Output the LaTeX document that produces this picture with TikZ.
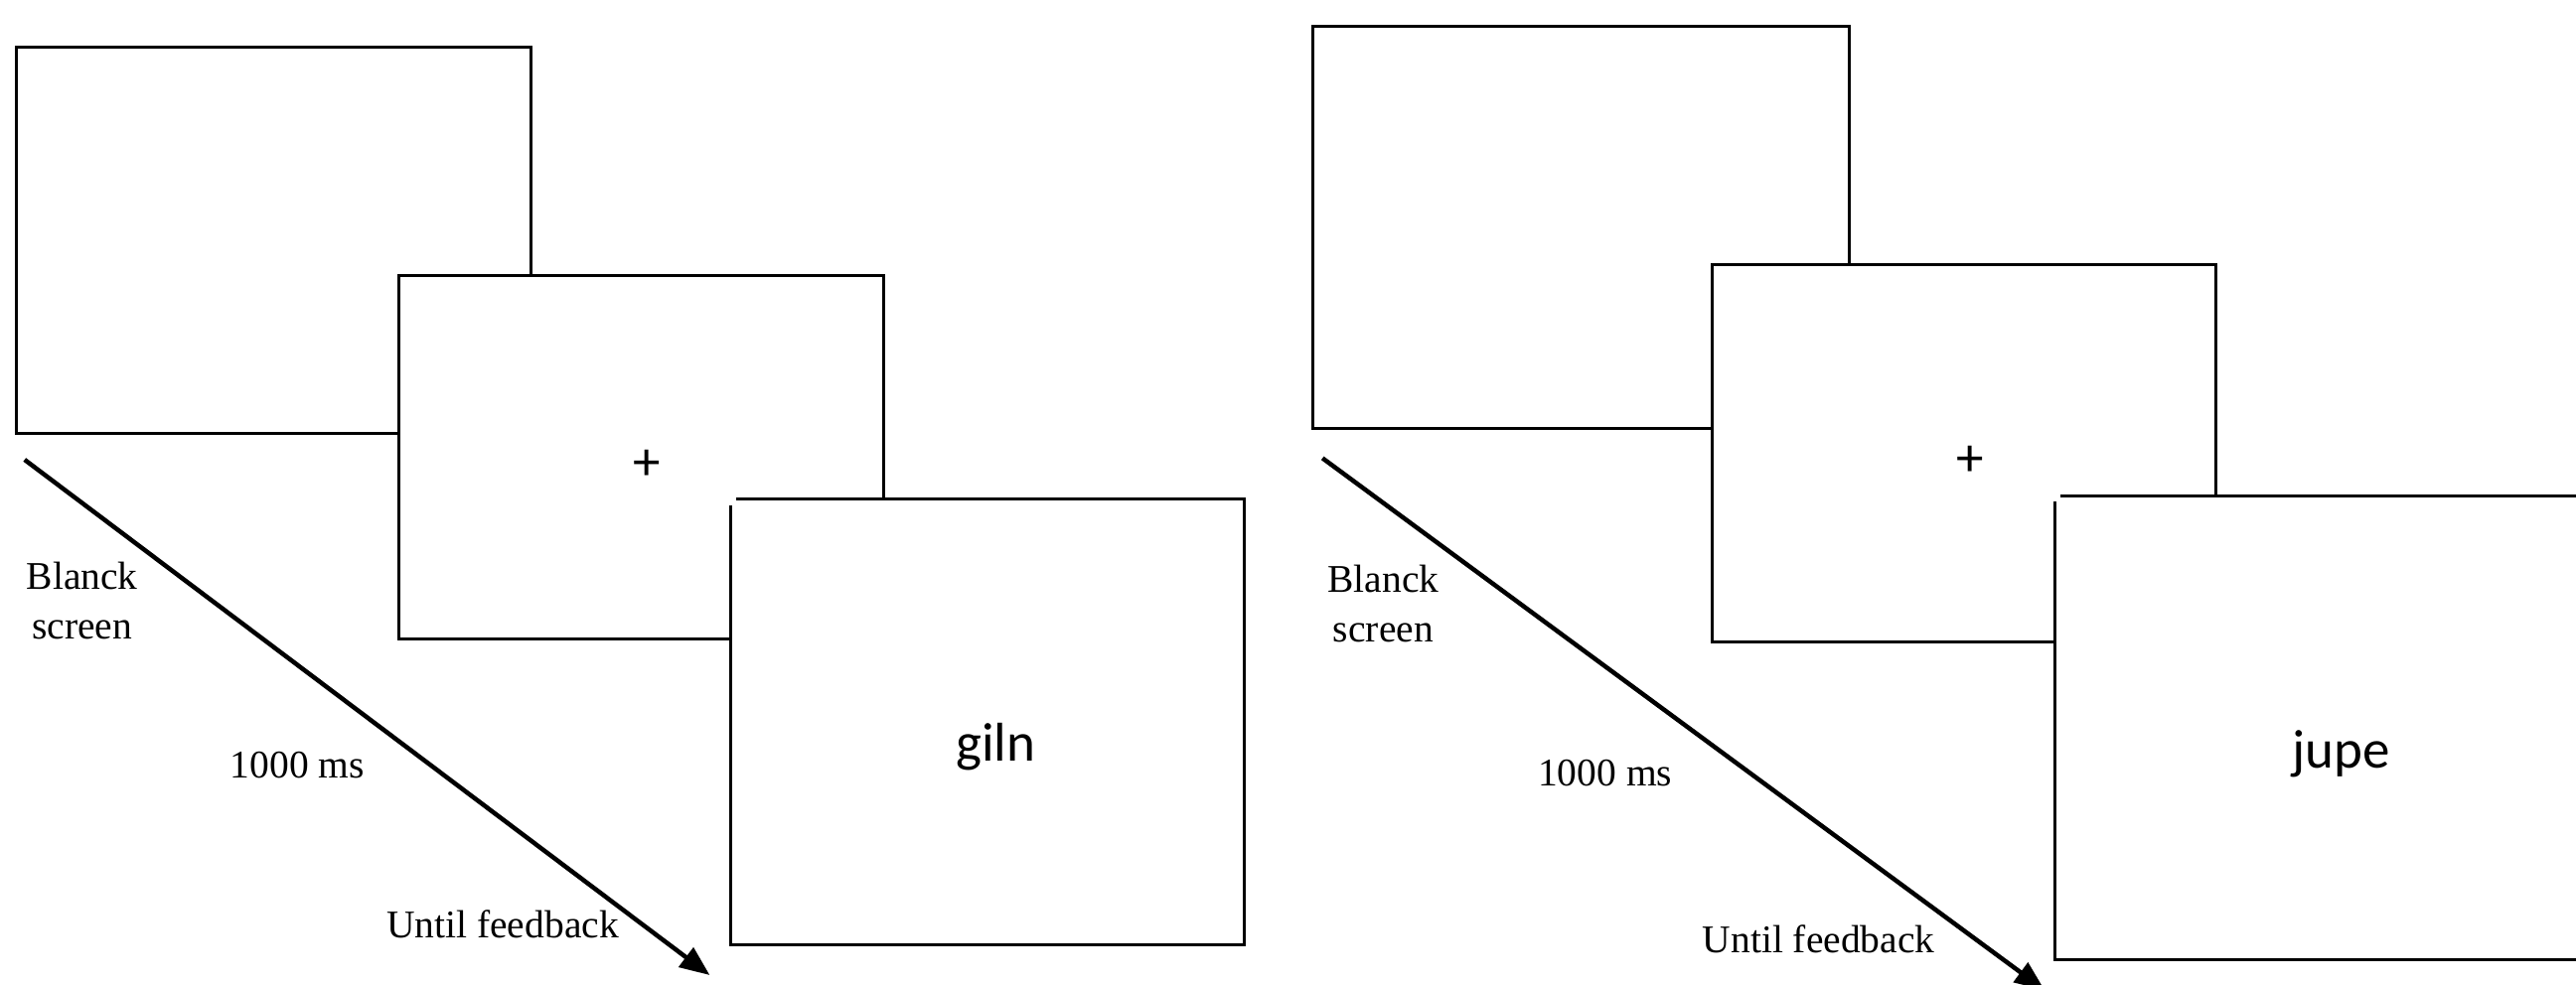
\documentclass[tikz,border=0pt]{standalone}
\usepackage{fontspec}
\setmainfont{Liberation Serif}
\newfontfamily\stimfont{Carlito}
\usetikzlibrary{arrows.meta}
\begin{document}
\begin{tikzpicture}[x=1pt,y=1pt,
  screenbox/.style={draw=black,line width=3pt,fill=white,rectangle,inner sep=0pt,anchor=north west},
  lastbox/.style={fill=white,rectangle,inner sep=0pt,anchor=north west},
  edgeline/.style={line width=3pt,draw=black},
  timearrow/.style={line width=4.5pt,-{Triangle[length=30pt,width=24pt]}},
  lbl/.style={font=\fontsize{39.5}{50}\selectfont,align=center,inner sep=0pt},
  stim/.style={font=\stimfont\fontsize{55}{60}\selectfont,inner sep=0pt}]
\useasboundingbox (0,0) rectangle (2593,-991);
\clip (0,0) rectangle (2593,-991);
% ---------- left panel ----------
\node[screenbox,minimum width=517.6pt,minimum height=388.6pt] (A1) at (14.9,-46.3) {};
\node[screenbox,minimum width=487.8pt,minimum height=365.4pt] (B1) at (400.2,-276.2) {};
\node[lastbox,minimum width=516pt,minimum height=448.2pt] (C1) at (735.9,-502.7) {};
\draw[edgeline] ([xshift=5pt]C1.north west) -- (C1.north east) -- (C1.south east) -- (C1.south west) -- ([yshift=-6pt]C1.north west);
\node[stim] (plus1) at (651.6,-468.0) {+};
\node[stim] (word1) at (1002.1,-752.4) {giln};
\coordinate (s1) at (24.8,-463.0);
\coordinate (e1) at (714.4,-982.0);
\draw[timearrow] (s1) -- (e1);
\node[lbl] (blank1) at (82.7,-605.3) {Blanck\\screen};
\node[lbl] (ms1) at (299.3,-770.6) {1000 ms};
\node[lbl] (fb1) at (506.0,-931.0) {Until feedback};
% ---------- right panel ----------
\node[screenbox,minimum width=540.7pt,minimum height=405.2pt] (A2) at (1319.7,-24.8) {};
\node[screenbox,minimum width=507.7pt,minimum height=380.4pt] (B2) at (1721.5,-264.6) {};
\node[lastbox,minimum width=600pt,minimum height=466.4pt] (C2) at (2068.8,-499.4) {};
\draw[edgeline] ([xshift=5pt]C2.north west) -- (C2.north east) -- (C2.south east) -- (C2.south west) -- ([yshift=-6pt]C2.north west);
\node[stim] (plus2) at (1982.8,-464.7) {+};
\node[stim] (word2) at (2356.5,-759.1) {jupe};
\coordinate (s2) at (1331.2,-461.4);
\coordinate (e2) at (2058.0,-997.0);
\draw[timearrow] (s2) -- (e2);
\node[lbl] (blank2) at (1392.4,-607.7) {Blanck\\screen};
\node[lbl] (ms2) at (1615.7,-778.9) {1000 ms};
\node[lbl] (fb2) at (1830.6,-945.9) {Until feedback};
\end{tikzpicture}
\end{document}
